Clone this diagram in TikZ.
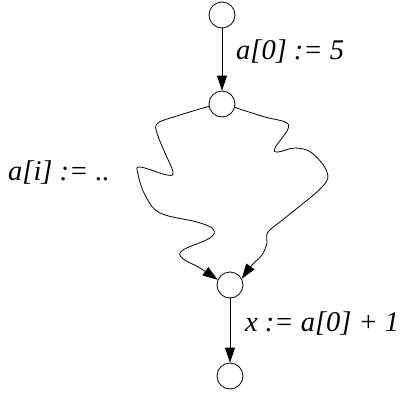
\documentclass[tikz,border=0pt]{standalone}
\usepackage{fontspec}
\setmainfont{Liberation Serif}
\usetikzlibrary{arrows.meta}
\tikzset{
  state/.style={draw, circle, line width=0.8pt, minimum size=26pt, inner sep=0pt},
  edge/.style={line width=0.8pt, -{Triangle[length=15pt,width=10pt]}},
  lbl/.style={font=\fontsize{28.5}{32}\selectfont\itshape, inner sep=0pt, anchor=west}
}
\begin{document}
\begin{tikzpicture}[x=1pt,y=-1pt]
\useasboundingbox (0,0) rectangle (400,392);
\node[state] (n1) at (222,15) {};
\node[state] (n2) at (222,104) {};
\node[state] (n3) at (230,285) {};
\node[state] (n4) at (230,376) {};
\draw[edge] (n1) -- (n2);
\draw[edge] (n3) -- (n4);
\draw[edge] plot[smooth, tension=0.6] coordinates {(n2.190) (180,115) (158,123) (157,133) (165,153) (173,172) (167,175) (140,167) (138,174) (145,195) (160,213) (197,222) (213,229) (210,238) (183,250) (182,258) (200,268) (n3.157)};
\draw[edge] plot[smooth, tension=0.6] coordinates {(n2.-15) (265,117) (285,122) (288,129) (275,148) (278,152) (295,148) (312,153) (327,172) (322,187) (285,218) (268,232) (267,243) (262,255) (252,265) (n3.28)};
\node[lbl] (l1) at (236,52) {a[0] := 5};
\node[lbl] (l2) at (8,173) {a[i] := ..};
\node[lbl] (l3) at (245,324) {x := a[0] + 1};
\end{tikzpicture}
\end{document}
